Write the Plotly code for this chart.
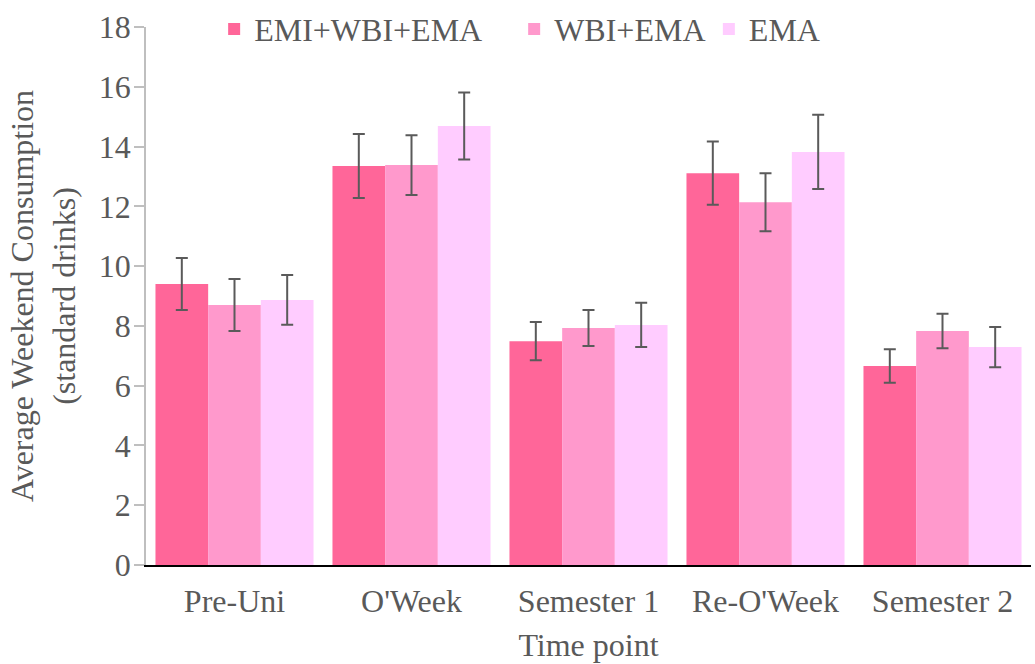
import plotly.graph_objects as go

categories = ["Pre-Uni", "O'Week", "Semester 1", "Re-O'Week", "Semester 2"]
series_names = ["EMI+WBI+EMA", "WBI+EMA", "EMA"]
emi_wbi_ema = [9.40, 13.35, 7.49, 13.11, 6.66]
emi_wbi_ema_err = [0.87, 1.07, 0.64, 1.06, 0.56]
wbi_ema = [8.70, 13.38, 7.93, 12.14, 7.83]
wbi_ema_err = [0.87, 1.00, 0.60, 0.97, 0.58]
ema = [8.87, 14.69, 8.03, 13.82, 7.29]
ema_err = [0.83, 1.12, 0.74, 1.24, 0.67]
y_ticks = [0, 2, 4, 6, 8, 10, 12, 14, 16, 18]

colors = ["#FF6699", "#FF99CC", "#FFCCFF"]
values = [emi_wbi_ema, wbi_ema, ema]
errors = [emi_wbi_ema_err, wbi_ema_err, ema_err]
legends = ["legend", "legend2", "legend3"]

FONT = "Liberation Serif"
TXT = "#595959"
FS = 32

fig = go.Figure()
for name, v, e, c, lg in zip(series_names, values, errors, colors, legends):
    fig.add_trace(go.Bar(
        x=categories, y=v, name=name, legend=lg, showlegend=True,
        marker=dict(color=c, line=dict(width=0)),
        error_y=dict(type="data", array=e, visible=True,
                     color="#5a5a5a", thickness=2, width=6),
    ))

def leg(x):
    return dict(orientation="h", yanchor="middle", y=0.996, xanchor="left", x=x,
                visible=True, itemwidth=30,
                font=dict(family=FONT, size=FS, color=TXT),
                bgcolor="rgba(0,0,0,0)", borderwidth=0)

fig.update_layout(
    width=1035, height=664,
    margin=dict(l=146, r=4, t=27, b=99, autoexpand=False),
    paper_bgcolor="white", plot_bgcolor="white",
    showlegend=True,
    barmode="group", bargap=0.107, bargroupgap=0,
    font=dict(family=FONT, size=FS, color=TXT),
    legend=leg(0.077),
    legend2=leg(0.416),
    legend3=leg(0.636),
    xaxis=dict(
        automargin=False,
        showgrid=False, showline=True, linecolor="black", linewidth=2,
        ticks="", ticklabelstandoff=7,
        tickfont=dict(family=FONT, size=FS, color=TXT),
        title=dict(text="Time point", standoff=15,
                   font=dict(family=FONT, size=FS, color=TXT)),
    ),
    yaxis=dict(
        automargin=False,
        range=[0, 18], tickvals=y_ticks, showgrid=False, zeroline=False,
        showline=True, linecolor="#BFBFBF", linewidth=1.5,
        ticks="outside", ticklen=10, tickcolor="#BFBFBF", tickwidth=1.5,
        ticklabelstandoff=-3,
        tickfont=dict(family=FONT, size=FS, color=TXT),
        title=dict(text="Average Weekend Consumption<br>(standard drinks)",
                   standoff=14,
                   font=dict(family=FONT, size=FS, color=TXT)),
    ),
)

fig.write_html(
    "out.html",
    config={"displayModeBar": False},
    post_script="document.body.style.margin='0';document.body.style.padding='0';",
)
